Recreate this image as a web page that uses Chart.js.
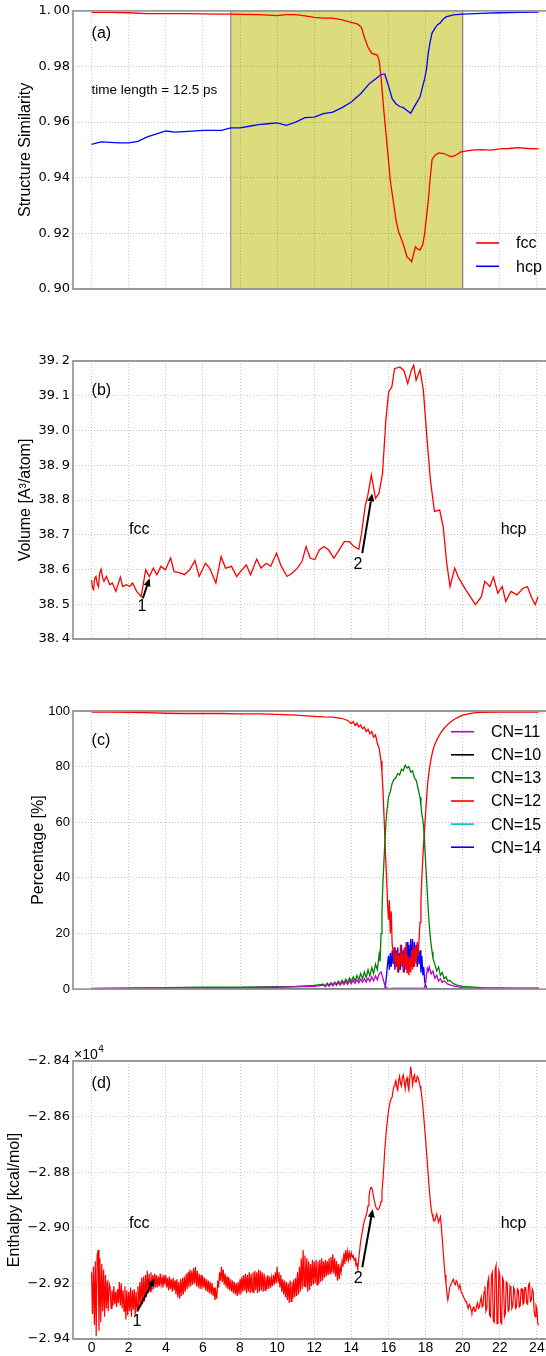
<!DOCTYPE html>
<html>
<head>
<meta charset="utf-8">
<script src="https://cdn.jsdelivr.net/npm/chart.js@4.4.1/dist/chart.umd.min.js"></script>
<style>
  body { margin: 0; background: #fff; width: 546px; height: 1356px; position: relative; overflow: hidden; }
  canvas { position: absolute; left: 0; }
</style>
</head>
<body>
<canvas id="panelA" width="546" height="300" style="top:0px"></canvas>
<canvas id="panelB" width="546" height="300" style="top:350px"></canvas>
<canvas id="panelC" width="546" height="300" style="top:700px"></canvas>
<canvas id="panelD" width="546" height="311" style="top:1045px"></canvas>
<script>
// ---- datos ----
const xTicks = [0, 2, 4, 6, 8, 10, 12, 14, 16, 18, 20, 22, 24];

// (a) structure similarity
const simTicks = [0.90, 0.92, 0.94, 0.96, 0.98, 1.00];
const fccT = [0,1,2,3,4,5,6,7,7.5,8,9,10,10.5,11,11.5,12,12.5,13,13.5,14,14.35,14.55,14.7,14.9,15.1,15.4,15.5,15.6,15.75,15.95,16.1,16.25,16.4,16.55,16.7,16.85,17.0,17.1,17.25,17.35,17.45,17.55,17.7,17.85,17.95,18.05,18.15,18.25,18.35,18.5,18.7,19.0,19.2,19.4,19.6,19.9,20.5,21,21.5,22,22.5,23,23.5,24.1];
const fccV = [0.9994,0.9994,0.9993,0.9990,0.9990,0.9990,0.9989,0.9988,0.9988,0.9987,0.9986,0.9983,0.9986,0.9986,0.9982,0.9976,0.9974,0.9974,0.9967,0.9958,0.9952,0.9940,0.9905,0.9869,0.9847,0.9841,0.9821,0.9761,0.9642,0.9500,0.9390,0.9320,0.9250,0.9205,0.9180,0.9150,0.9115,0.9110,0.9098,0.9125,0.9152,0.9145,0.9140,0.9160,0.9200,0.9260,0.9320,0.9400,0.9465,0.9480,0.9489,0.9487,0.9480,0.9475,0.9480,0.9493,0.9499,0.9501,0.9499,0.9504,0.9505,0.9508,0.9505,0.9504];
const hcpT = [0,0.5,1,1.5,2,2.5,3,3.5,4,4.5,5,6,7,7.5,8,8.5,9,9.5,10,10.5,11,11.5,12,12.5,13,13.5,14,14.5,15,15.3,15.6,15.8,16.0,16.2,16.4,16.6,16.8,17.0,17.2,17.45,17.7,17.85,17.95,18.05,18.15,18.25,18.35,18.5,18.65,18.8,18.95,19.1,19.5,20,21,22,23,24.1];
const hcpV = [0.9520,0.9529,0.9527,0.9525,0.9525,0.9531,0.9547,0.9558,0.9568,0.9564,0.9566,0.9570,0.9570,0.9579,0.9579,0.9585,0.9591,0.9594,0.9597,0.9588,0.9600,0.9616,0.9618,0.9630,0.9636,0.9652,0.9672,0.9702,0.9740,0.9755,0.9771,0.9773,0.9731,0.9684,0.9666,0.9656,0.9652,0.9642,0.9632,0.9662,0.9690,0.9730,0.9755,0.9790,0.9850,0.9890,0.9920,0.9937,0.9950,0.9957,0.9970,0.9978,0.9985,0.9988,0.9991,0.9993,0.9994,0.9995];
const windowStart = 7.5, windowEnd = 20;

// (b) volume
const volTicks = [38.4, 38.5, 38.6, 38.7, 38.8, 38.9, 39.0, 39.1, 39.2];
const volT = [0,0.05,0.11,0.17,0.24,0.3,0.37,0.44,0.52,0.6,0.67,0.8,0.99,1.12,1.31,1.55,1.68,1.87,2.06,2.21,2.43,2.67,2.92,3.11,3.33,3.52,3.74,3.98,4.26,4.45,4.73,5.01,5.29,5.57,5.8,6.14,6.36,6.7,6.98,7.22,7.54,7.82,8.1,8.34,8.57,8.9,9.13,9.41,9.65,9.97,10.21,10.53,10.81,11.09,11.34,11.56,11.78,12.03,12.27,12.53,12.78,13.06,13.34,13.62,13.9,14.14,14.4,14.55,14.74,14.89,15.08,15.3,15.49,15.68,15.86,16.01,16.18,16.33,16.61,16.83,17.04,17.23,17.36,17.49,17.7,17.88,18.07,18.26,18.48,18.76,18.95,19.14,19.32,19.57,19.79,20.16,20.69,21.01,21.19,21.47,21.66,21.89,22.13,22.32,22.6,22.93,23.25,23.49,23.72,23.91,24.06];
const volV = [38.570,38.548,38.542,38.575,38.580,38.560,38.551,38.590,38.601,38.575,38.566,38.580,38.556,38.561,38.537,38.578,38.551,38.556,38.551,38.561,38.537,38.522,38.599,38.580,38.604,38.585,38.609,38.599,38.633,38.594,38.591,38.585,38.599,38.626,38.580,38.618,38.604,38.561,38.637,38.604,38.609,38.580,38.599,38.613,38.585,38.630,38.604,38.618,38.609,38.647,38.611,38.580,38.589,38.604,38.623,38.666,38.633,38.628,38.656,38.666,38.656,38.633,38.656,38.680,38.680,38.666,38.658,38.704,38.781,38.814,38.872,38.805,38.819,38.877,39.030,39.111,39.125,39.178,39.183,39.173,39.135,39.173,39.188,39.145,39.175,39.116,38.982,38.857,38.767,38.771,38.723,38.618,38.551,38.604,38.575,38.542,38.499,38.522,38.566,38.551,38.578,38.532,38.551,38.508,38.537,38.527,38.546,38.551,38.518,38.499,38.522];

// (c) coordination numbers, %
const pctTicks = [0, 20, 40, 60, 80, 100];
const cn11T = [0,2,4,6,8,10,11,12,12.5,12.6,12.7,12.8,12.9,13.0,13.1,13.2,13.3,13.4,13.5,13.6,13.7,13.8,13.9,14.0,14.1,14.2,14.3,14.4,14.5,14.6,14.7,14.8,14.9,15.0,15.1,15.2,15.3,15.4,15.5,15.6,15.7,15.8,15.9,16.0,17.9,18.0,18.05,18.1,18.15,18.2,18.3,18.4,18.5,18.6,18.7,18.8,18.9,19.0,19.2,19.4,19.6,20,21,22,24.1];
const cn11V = [0.3,0.4,0.5,0.5,0.6,0.7,0.8,1.0,1.5,0.9,1.8,1.0,2.0,1.2,2.2,1.4,2.4,1.5,2.6,1.7,2.8,1.8,3.0,2.0,3.2,2.1,3.4,2.3,3.6,2.5,3.8,2.6,4.0,2.8,4.4,3.0,4.8,3.4,5.5,6.2,4.0,1.5,0.5,0.1,0.1,2,5,7.5,6.5,8.0,5.5,6.5,4.0,5.0,3.0,3.8,2.4,3.0,1.8,1.4,1.0,0.6,0.4,0.3,0.3];
const cn10T = [0, 24.1];
const cn10V = [0, 0];
const cn13T = [0,2,4,6,8,10,11,12,12.5,12.6,12.7,12.8,12.9,13.0,13.1,13.2,13.3,13.4,13.5,13.6,13.7,13.8,13.9,14.0,14.1,14.2,14.3,14.4,14.5,14.6,14.7,14.8,14.9,15.0,15.1,15.2,15.3,15.4,15.5,15.55,15.6,15.65,15.7,15.75,15.8,15.85,15.9,15.95,16.0,16.1,16.2,16.3,16.4,16.5,16.6,16.7,16.8,16.9,17.0,17.1,17.2,17.3,17.4,17.5,17.6,17.7,17.75,17.8,17.85,17.9,17.95,18.0,18.05,18.1,18.15,18.2,18.25,18.3,18.35,18.4,18.5,18.6,18.7,18.8,18.9,19.0,19.1,19.2,19.3,19.5,19.7,20,21,22,23,24.1];
const cn13V = [0.2,0.4,0.6,0.7,0.7,0.9,1.0,1.4,1.8,1.2,2.2,1.4,2.4,1.6,2.6,1.8,2.9,2.0,3.2,2.2,3.6,2.4,4.0,2.8,4.4,3.0,5.0,3.4,5.6,3.8,6.2,4.2,7.0,4.8,7.8,5.6,9.0,7.0,12.5,10,20,28,38,45,52,58,63,66,69,71,74,75.5,76,77.5,77,79,78.5,80.5,79.5,80,78,78.5,76,75,72,69,66,63,61,58,52,46,40,34,28,23,19,16,13.5,11,9.0,6.5,8.0,5.0,6.0,3.8,4.5,2.8,3.2,2.0,1.5,1.0,0.6,0.5,0.4,0.4];
const cn12T = [0,1,2,3,4,5,6,7,8,9,10,11,12,12.5,13,13.5,13.8,14,14.1,14.2,14.3,14.4,14.5,14.6,14.7,14.8,14.9,15,15.1,15.2,15.3,15.4,15.5,15.6,15.65,15.7,15.75,15.8,15.85,15.9,15.95,16,16.05,16.1,16.15,16.2,16.25,16.3,16.35,16.4,16.45,16.5,16.55,16.6,16.65,16.7,16.75,16.8,16.85,16.9,16.95,17,17.05,17.1,17.15,17.2,17.25,17.3,17.35,17.4,17.45,17.5,17.55,17.6,17.65,17.7,17.75,17.8,17.85,17.9,17.95,18,18.05,18.1,18.15,18.2,18.3,18.4,18.5,18.6,18.8,19,19.2,19.4,19.6,19.8,20,20.3,20.6,21,22,23,24.1];
const cn12V = [99.6,99.6,99.5,99.4,99.2,99.1,99.1,99.1,99.0,99.0,98.8,98.5,98.1,97.9,97.8,97.3,96.6,95.5,96.2,94.8,95.6,94.3,95.0,93.6,94.2,92.6,93.4,91.8,92.6,90.6,91.4,88.5,86.5,82,78,72,64,56,47,40,31,25,32,20,28,16,14,10,15,8,14,6,12,7,16,9,13,6,15,8,17,6,12,5,11,6,14,7,16,8,15,9,17,12,18,24,32,40,47,53,58,63,68,73,76,79,83,86,88,89.5,92,93.8,95.2,96.3,97.2,97.9,98.5,99.0,99.3,99.5,99.6,99.6,99.6];
const cn15T = [0, 15.9, 16.2, 17.8, 18.1, 24.1];
const cn15V = [0, 0, 0.4, 0.4, 0, 0];
const cn14T = [0,15.8,15.85,15.9,15.95,16.0,16.05,16.1,16.15,16.2,16.25,16.3,16.35,16.4,16.45,16.5,16.55,16.6,16.65,16.7,16.75,16.8,16.85,16.9,16.95,17.0,17.05,17.1,17.15,17.2,17.25,17.3,17.35,17.4,17.45,17.5,17.55,17.6,17.65,17.7,17.75,17.8,17.85,17.9,17.95,18.0,18.05,18.1,24.1];
const cn14V = [0,0,2,5,9,12,7,13,8,14,9,15,7,14,8,15,6,13,7,16,8,14,6,15,7,17,8,16,9,18,10,18,8,17,10,16,8,15,9,14,6,12,5,8,3,1.5,0.5,0,0];

// (d) enthalpy, x10^4 kcal/mol, one value every 0.05 ps from t = 0 (10 values per row = 0.5 ps)
const enthStep = 0.05;
const enthTicks = [-2.94, -2.92, -2.90, -2.88, -2.86, -2.84];
const enthV = [
  -2.9160,-2.9310,-2.9140,-2.9350,-2.9120,-2.9390,-2.9100,-2.9080,-2.9370,-2.9110,
  -2.9340,-2.9130,-2.9300,-2.9150,-2.9320,-2.9170,-2.9290,-2.9190,-2.9300,-2.9200,
  -2.9215,-2.9290,-2.9225,-2.9280,-2.9210,-2.9275,-2.9230,-2.9285,-2.9220,-2.9270,
  -2.9195,-2.9280,-2.9200,-2.9290,-2.9225,-2.9300,-2.9210,-2.9330,-2.9225,-2.9315,
  -2.9230,-2.9300,-2.9215,-2.9320,-2.9225,-2.9295,-2.9220,-2.9315,-2.9230,-2.9300,
  -2.9210,-2.9295,-2.9195,-2.9285,-2.9180,-2.9275,-2.9175,-2.9265,-2.9170,-2.9250,
  -2.9155,-2.9235,-2.9165,-2.9230,-2.9160,-2.9225,-2.9170,-2.9220,-2.9165,-2.9215,
  -2.9170,-2.9215,-2.9175,-2.9210,-2.9165,-2.9205,-2.9180,-2.9215,-2.9170,-2.9205,
  -2.9170,-2.9215,-2.9180,-2.9225,-2.9175,-2.9220,-2.9185,-2.9230,-2.9180,-2.9225,
  -2.9190,-2.9240,-2.9185,-2.9250,-2.9195,-2.9255,-2.9185,-2.9245,-2.9180,-2.9240,
  -2.9175,-2.9230,-2.9165,-2.9220,-2.9160,-2.9215,-2.9150,-2.9210,-2.9155,-2.9205,
  -2.9145,-2.9200,-2.9140,-2.9210,-2.9155,-2.9215,-2.9165,-2.9220,-2.9170,-2.9220,
  -2.9175,-2.9215,-2.9180,-2.9225,-2.9185,-2.9230,-2.9190,-2.9235,-2.9195,-2.9240,
  -2.9200,-2.9245,-2.9215,-2.9260,-2.9230,-2.9255,-2.9190,-2.9215,-2.9160,-2.9190,
  -2.9140,-2.9195,-2.9150,-2.9205,-2.9165,-2.9215,-2.9175,-2.9220,-2.9180,-2.9225,
  -2.9185,-2.9230,-2.9190,-2.9235,-2.9195,-2.9240,-2.9200,-2.9245,-2.9195,-2.9240,
  -2.9185,-2.9240,-2.9175,-2.9230,-2.9170,-2.9225,-2.9165,-2.9235,-2.9170,-2.9230,
  -2.9160,-2.9235,-2.9165,-2.9230,-2.9160,-2.9235,-2.9155,-2.9225,-2.9160,-2.9235,
  -2.9150,-2.9230,-2.9155,-2.9225,-2.9160,-2.9230,-2.9165,-2.9225,-2.9175,-2.9220,
  -2.9170,-2.9220,-2.9175,-2.9215,-2.9180,-2.9210,-2.9170,-2.9205,-2.9160,-2.9200,
  -2.9140,-2.9195,-2.9160,-2.9215,-2.9170,-2.9230,-2.9185,-2.9240,-2.9190,-2.9250,
  -2.9195,-2.9260,-2.9200,-2.9270,-2.9190,-2.9265,-2.9195,-2.9255,-2.9185,-2.9250,
  -2.9180,-2.9245,-2.9160,-2.9240,-2.9140,-2.9230,-2.9110,-2.9220,-2.9080,-2.9210,
  -2.9100,-2.9215,-2.9110,-2.9230,-2.9120,-2.9225,-2.9130,-2.9210,-2.9115,-2.9205,
  -2.9120,-2.9200,-2.9115,-2.9205,-2.9120,-2.9200,-2.9115,-2.9195,-2.9110,-2.9190,
  -2.9120,-2.9180,-2.9115,-2.9175,-2.9120,-2.9170,-2.9110,-2.9165,-2.9105,-2.9160,
  -2.9095,-2.9165,-2.9110,-2.9175,-2.9120,-2.9190,-2.9130,-2.9185,-2.9140,-2.9160,
  -2.9120,-2.9140,-2.9090,-2.9130,-2.9080,-2.9120,-2.9085,-2.9115,-2.9090,-2.9110,
  -2.9090,-2.9105,-2.9100,-2.9115,-2.9110,-2.9135,-2.9130,-2.9150,-2.9110,-2.9080,
  -2.9050,-2.9030,-2.9010,-2.8990,-2.8975,-2.8965,-2.8955,-2.8940,-2.8920,-2.8890,
  -2.8865,-2.8855,-2.8855,-2.8870,-2.8890,-2.8905,-2.8920,-2.8930,-2.8935,-2.8935,
  -2.8930,-2.8920,-2.8905,-2.8870,-2.8830,-2.8780,-2.8720,-2.8680,-2.8640,-2.8610,
  -2.8580,-2.8560,-2.8545,-2.8535,-2.8530,-2.8505,-2.8490,-2.8480,-2.8470,-2.8495,
  -2.8505,-2.8470,-2.8455,-2.8480,-2.8490,-2.8460,-2.8450,-2.8475,-2.8500,-2.8470,
  -2.8460,-2.8490,-2.8505,-2.8460,-2.8420,-2.8450,-2.8485,-2.8460,-2.8450,-2.8475,
  -2.8475,-2.8455,-2.8460,-2.8475,-2.8490,-2.8505,-2.8530,-2.8560,-2.8600,-2.8640,
  -2.8680,-2.8725,-2.8770,-2.8815,-2.8860,-2.8900,-2.8930,-2.8950,-2.8965,-2.8970,
  -2.8975,-2.8960,-2.8950,-2.8965,-2.8980,-2.8970,-2.8960,-2.8995,-2.9040,-2.9085,
  -2.9130,-2.9170,-2.9200,-2.9235,-2.9260,-2.9240,-2.9215,-2.9205,-2.9200,-2.9190,
  -2.9185,-2.9200,-2.9205,-2.9190,-2.9195,-2.9210,-2.9215,-2.9205,-2.9225,-2.9235,
  -2.9240,-2.9250,-2.9255,-2.9265,-2.9265,-2.9280,-2.9290,-2.9275,-2.9280,-2.9295,
  -2.9305,-2.9290,-2.9285,-2.9300,-2.9300,-2.9280,-2.9270,-2.9290,-2.9285,-2.9265,
  -2.9250,-2.9285,-2.9280,-2.9230,-2.9210,-2.9300,-2.9290,-2.9195,-2.9180,-2.9315,
  -2.9320,-2.9170,-2.9160,-2.9335,-2.9340,-2.9150,-2.9135,-2.9345,-2.9330,-2.9155,
  -2.9170,-2.9340,-2.9345,-2.9180,-2.9190,-2.9320,-2.9310,-2.9195,-2.9200,-2.9300,
  -2.9295,-2.9210,-2.9220,-2.9290,-2.9280,-2.9215,-2.9225,-2.9290,-2.9285,-2.9220,
  -2.9225,-2.9285,-2.9280,-2.9220,-2.9220,-2.9275,-2.9270,-2.9215,-2.9215,-2.9270,
  -2.9275,-2.9205,-2.9200,-2.9265,-2.9260,-2.9220,-2.9230,-2.9300,-2.9320,-2.9280,
  -2.9290,-2.9345,-2.9350
];

// ---- helpers ----
const SANS = '"Liberation Sans", Arial, sans-serif';
const DEJAVU = '"DejaVu Sans", sans-serif';
const GRID = 'rgba(0,0,0,0.22)';

function pts(ts, vs) { return ts.map((t, i) => ({x: t, y: vs[i]})); }

function serie(label, color, data, ancho) {
  return { label, data, borderColor: color, backgroundColor: color, borderWidth: ancho || 1.3,
           pointRadius: 0, fill: false, tension: 0 };
}

function ejeX(altura, conEtiquetas) {
  return {
    type: 'linear', min: -1, max: 24.49,
    afterBuildTicks: s => { s.ticks = xTicks.map(v => ({value: v})); },
    afterFit: s => { s.height = altura; },
    grid: { color: GRID, lineWidth: 1, drawTicks: false },
    border: { display: false, dash: [1, 2] },
    ticks: { display: conEtiquetas, autoSkip: false, maxRotation: 0, padding: 1, color: '#000',
             font: { family: SANS, size: 14 } }
  };
}

function ejeY(min, max, ticks, fmt, titulo, padTitulo, fuente) {
  return {
    type: 'linear', min, max,
    afterBuildTicks: s => { s.ticks = ticks.map(v => ({value: v})); },
    afterFit: s => { s.width = 73; },
    grid: { color: GRID, lineWidth: 1, drawTicks: false },
    border: { display: false, dash: [1, 2] },
    ticks: { autoSkip: false, padding: 3, color: '#000', callback: fmt, font: fuente },
    title: { display: true, text: titulo, color: '#000', font: { family: SANS, size: 16 },
             padding: { top: padTitulo, bottom: 0 } }
  };
}

const conEspacio = d => v => v.toFixed(d).replace('.', '.\u2009');

// marco gris (izq, arriba, abajo)
const marco = {
  id: 'marco',
  afterDatasetsDraw(chart) {
    const {ctx, chartArea: a} = chart;
    ctx.save();
    ctx.strokeStyle = '#999'; ctx.lineWidth = 1.8;
    ctx.beginPath();
    ctx.moveTo(a.right + 2, a.top); ctx.lineTo(a.left, a.top);
    ctx.lineTo(a.left, a.bottom); ctx.lineTo(a.right + 2, a.bottom);
    ctx.stroke();
    ctx.restore();
  }
};

// franja sombreada del panel (a)
const franja = {
  id: 'franja',
  beforeDraw(chart, args, o) {
    if (o.desde === undefined) return;
    const {ctx, chartArea: a, scales: {x}} = chart;
    const x0 = x.getPixelForValue(o.desde), x1 = x.getPixelForValue(o.hasta);
    ctx.save();
    ctx.fillStyle = '#dcdc7c';
    ctx.fillRect(x0, a.top, x1 - x0, a.bottom - a.top);
    ctx.strokeStyle = '#8c8c8c'; ctx.lineWidth = 1.2;
    ctx.strokeRect(x0, a.top, x1 - x0, a.bottom - a.top);
    ctx.restore();
  }
};

// textos y flechas en coordenadas de datos
const notas = {
  id: 'notas',
  afterDatasetsDraw(chart, args, o) {
    const {ctx, scales: {x, y}, chartArea: a} = chart;
    ctx.save();
    (o.flechas || []).forEach(f => {
      const x0 = x.getPixelForValue(f.de[0]), y0 = y.getPixelForValue(f.de[1]);
      const x1 = x.getPixelForValue(f.a[0]), y1 = y.getPixelForValue(f.a[1]);
      const ang = Math.atan2(y1 - y0, x1 - x0), hl = 8, hw = 3.5;
      const bx = x1 - hl * Math.cos(ang), by = y1 - hl * Math.sin(ang);
      ctx.strokeStyle = '#000'; ctx.fillStyle = '#000'; ctx.lineWidth = 2;
      ctx.beginPath(); ctx.moveTo(x0, y0); ctx.lineTo(bx, by); ctx.stroke();
      ctx.beginPath(); ctx.moveTo(x1, y1);
      ctx.lineTo(bx + hw * Math.sin(ang), by - hw * Math.cos(ang));
      ctx.lineTo(bx - hw * Math.sin(ang), by + hw * Math.cos(ang));
      ctx.closePath(); ctx.fill();
    });
    ctx.fillStyle = '#000'; ctx.textBaseline = 'middle';
    (o.textos || []).forEach(t => {
      ctx.font = t.font || ('16px ' + SANS);
      ctx.textAlign = t.align || 'left';
      ctx.fillText(t.texto, x.getPixelForValue(t.en[0]), y.getPixelForValue(t.en[1]));
    });
    if (o.escala) {
      // multiplicador del eje y: "×10" con exponente
      ctx.textAlign = 'left';
      ctx.font = '14px ' + SANS;
      ctx.fillText(o.escala[0], a.left + 1, a.top - 6);
      const w = ctx.measureText(o.escala[0]).width;
      ctx.font = '10px ' + SANS;
      ctx.fillText(o.escala[1], a.left + 1 + w + 0.5, a.top - 12);
    }
    ctx.restore();
  }
};

// leyenda a la derecha
const clave = {
  id: 'clave',
  afterDraw(chart, args, o) {
    if (o.x0 === undefined) return;
    const ctx = chart.ctx;
    ctx.save();
    ctx.font = '16px ' + SANS; ctx.textBaseline = 'middle'; ctx.textAlign = 'left';
    chart.data.datasets.forEach((ds, i) => {
      const yy = o.arriba + i * o.paso;
      ctx.strokeStyle = ds.borderColor; ctx.lineWidth = 1.6;
      ctx.beginPath(); ctx.moveTo(o.x0, yy); ctx.lineTo(o.x1, yy); ctx.stroke();
      ctx.fillStyle = '#000';
      ctx.fillText(ds.label, o.tx, yy + 1);
    });
    ctx.restore();
  }
};

function panel(id, padTop, datasets, scales, pluginOpts) {
  return new Chart(document.getElementById(id).getContext('2d'), {
    type: 'line',
    data: { datasets },
    options: {
      responsive: false, animation: false, events: [],
      layout: { padding: { top: padTop, left: 0, right: 0, bottom: 0 } },
      scales,
      plugins: Object.assign({ legend: { display: false }, tooltip: { enabled: false } }, pluginOpts)
    },
    plugins: [franja, marco, notas, clave]
  });
}

// (a)
panel('panelA', 10,
  [serie('fcc', '#ff0000', pts(fccT, fccV)), serie('hcp', '#0000ff', pts(hcpT, hcpV))],
  { x: ejeX(11, false),
    y: ejeY(0.9, 1.0, simTicks, conEspacio(2), 'Structure Similarity', 16, { family: DEJAVU, size: 13 }) },
  { franja: { desde: windowStart, hasta: windowEnd },
    notas: { textos: [
      { texto: '(a)', en: [0, 0.9918] },
      { texto: 'time length = 12.5 ps', en: [0, 0.9713], font: '13.5px ' + SANS }
    ] },
    clave: { x0: 476, x1: 499, tx: 516, arriba: 243, paso: 23.3 } });

// (b)
panel('panelB', 11,
  [serie('volume', '#ff0000', pts(volT, volV))],
  { x: ejeX(11, false),
    y: ejeY(38.4, 39.2, volTicks, conEspacio(1), 'Volume [A\u00b3/atom]', 15.5, { family: DEJAVU, size: 13 }) },
  { notas: {
      textos: [
        { texto: '(b)', en: [0, 39.114] },
        { texto: 'fcc', en: [2.02, 38.714] },
        { texto: 'hcp', en: [22.05, 38.714] },
        { texto: '1', en: [2.72, 38.493], align: 'center' },
        { texto: '2', en: [14.36, 38.613], align: 'center' }
      ],
      flechas: [
        { de: [2.76, 38.517], a: [3.13, 38.575] },
        { de: [14.59, 38.647], a: [15.12, 38.819] }
      ] } });

// (c)
panel('panelC', 11,
  [serie('CN=11', '#bf00bf', pts(cn11T, cn11V)),
   serie('CN=10', '#000000', pts(cn10T, cn10V)),
   serie('CN=13', '#008000', pts(cn13T, cn13V)),
   serie('CN=12', '#ff0000', pts(cn12T, cn12V)),
   serie('CN=15', '#00bfbf', pts(cn15T, cn15V)),
   serie('CN=14', '#0000ff', pts(cn14T, cn14V))],
  { x: ejeX(10, false),
    y: ejeY(0, 100, pctTicks, v => String(v), 'Percentage [%]', 28.5, { family: SANS, size: 13 }) },
  { notas: { textos: [ { texto: '(c)', en: [0, 89.25] } ] },
    clave: { x0: 451, x1: 474, tx: 491, arriba: 31.7, paso: 23.1 } });

// (d)
panel('panelD', 16,
  [serie('enthalpy', '#ff0000', enthV.map((v, i) => ({x: +(i * enthStep).toFixed(2), y: v})), 1.2)],
  { x: ejeX(17, true),
    y: ejeY(-2.94, -2.84, enthTicks, v => '\u2212' + Math.abs(v).toFixed(2).replace('.', '.\u2009'),
            'Enthalpy [kcal/mol]', 5, { family: DEJAVU, size: 13 }) },
  { notas: {
      escala: ['\u00d710', '4'],
      textos: [
        { texto: '(d)', en: [0, -2.8483] },
        { texto: 'fcc', en: [2.02, -2.8984] },
        { texto: 'hcp', en: [22.05, -2.8984] },
        { texto: '1', en: [2.45, -2.9338], align: 'center' },
        { texto: '2', en: [14.37, -2.9182], align: 'center' }
      ],
      flechas: [
        { de: [2.48, -2.9298], a: [3.39, -2.9182] },
        { de: [14.59, -2.9142], a: [15.15, -2.8933] }
      ] } });
</script>
</body>
</html>
